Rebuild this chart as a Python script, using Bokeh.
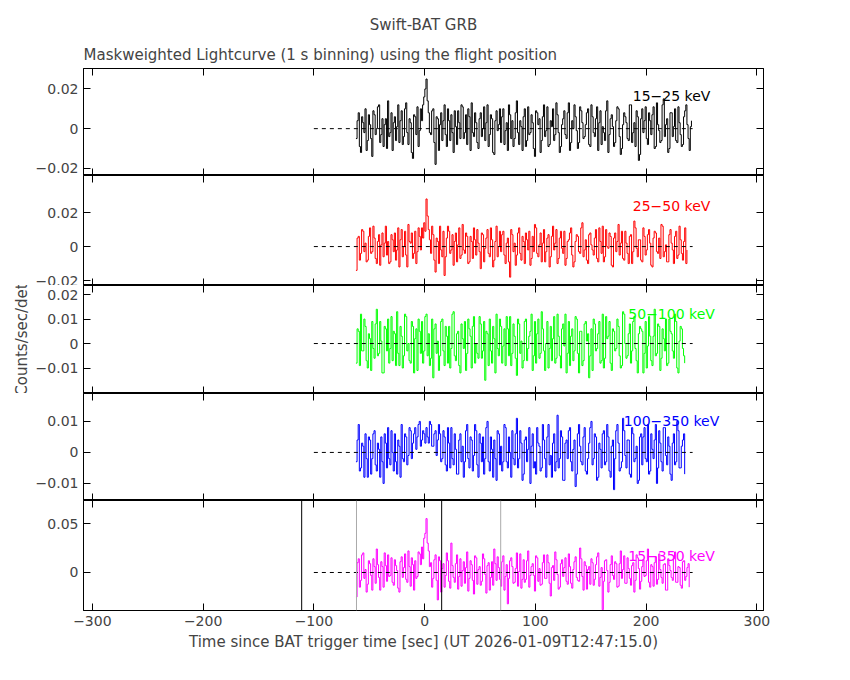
import numpy as np
from bokeh.plotting import figure
from bokeh.layouts import column
from bokeh.models import Range1d, LinearAxis, Label, Span, Title
from bokeh.embed import file_html
from bokeh.resources import INLINE

# rates in units of 1e-3 counts/sec/det; even seconds (a) and odd seconds (b) from -62 s
r15_25a = [-5,8,-12,3,10,-6,2,-14,7,0,12,-3,-9,5,14,-2,-11,6,1,-7,9,-4,13,-8,3,-15,6,11,-1,4,16,25,8,-3,10,-18,5,2,-6,12,-9,4,7,-12,1,9,-5,11,-2,-8,6,13,-4,3,-10,8,0,-6,12,-3,5,-13,9,2,-7,10,-1,-11,7,4,-5,14,-8,1,6,-9,11,-2,3,-14,8,5,-6,12,-1,-9,4,10,-3,7,-12,2,9,-5,13,-7,0,6,-10,11,3,-4,8,-8,12,-2,5,-11,9,1,-6,14,-3,7,-9,4,10,-13,2,6,-5,12,-7,3,9,-16,5,-2,11,-8,4,7,-10,13,-1,-6,15,2,-12,8,-4,10,-7,3,-9,6,12,-5,1,-3]
r15_25b = [4,-9,6,-2,-11,7,-5,9,-3,11,-7,5,2,-10,-4,8,3,-6,12,4,-8,10,-2,5,-12,7,-3,-9,10,12,20,14,-2,9,-7,6,-11,8,4,-3,10,-6,-2,9,-8,3,12,-5,7,10,-11,-2,8,-7,5,-4,11,3,-9,7,-12,4,-1,10,6,-8,3,12,-5,-9,8,-2,4,-11,10,-6,-3,7,-10,9,2,-12,6,-4,11,-8,1,-6,13,-2,-9,5,-3,8,-11,4,12,-1,-7,9,-5,2,10,-9,6,-4,11,3,-8,-2,9,-12,5,1,-7,11,-4,-10,8,3,-6,12,-2,-9,6,-13,10,4,-5,8,-3,11,-9,2,-7,12,-4,5,-10,8,1,-6,11,-3,-8,9,2,-11,4]
r25_50a = [-14,6,-4,9,2,-8,11,-3,5,-10,7,1,-6,12,3,-9,4,8,-2,-12,10,0,-5,13,2,-7,9,-3,6,11,14,28,10,-4,7,-15,3,12,-6,-17,5,9,-2,-11,8,1,-7,13,-4,6,-9,3,11,-5,2,-13,7,-1,10,-6,4,-8,12,0,-3,9,-10,5,-18,7,2,-5,11,-8,3,8,-2,-11,6,13,-4,1,-9,10,-3,7,-6,12,2,-10,5,-1,9,-7,4,11,-12,3,6,-4,14,-2,-8,7,1,-5,10,-9,3,12,-6,0,8,-11,5,-3,13,2,-7,9,-4,6,-10,15,-1,4,-8,11,-5,7,2,-12,9,-3,5,13,-6,1,-9,10,-2,6,-7,12,-4,3,-10,8,1,-5]
r25_50b = [5,-8,10,-3,-9,6,-4,12,-7,3,-11,8,2,-5,-10,7,-3,-8,11,4,-6,9,-12,3,8,-4,-10,11,-2,5,9,18,4,12,-8,5,-10,-2,9,-6,12,-4,7,3,-9,11,-5,-2,8,-10,6,-7,4,10,-3,8,-9,5,-4,11,-12,3,-6,9,7,-5,2,-9,10,-3,-11,8,-4,6,-10,4,9,-7,-3,11,-6,8,2,-9,5,-12,6,-2,10,-7,9,-4,-11,3,8,-5,-9,7,-3,11,-6,4,-10,8,-2,5,-7,11,-4,-9,10,-1,6,-12,8,3,-5,9,-8,2,-10,7,-3,11,-6,4,-9,6,-2,10,-11,5,8,-4,-7,12,-3,-9,7,2,-10,9,-5,4,-8,11,-2]
r50_100a = [-8,5,12,-3,7,-10,2,9,-6,14,-4,1,-12,6,10,-2,-7,4,13,-9,3,-5,11,0,-8,7,2,-11,5,9,-3,12,4,-6,-14,8,1,-5,10,-9,3,7,-2,13,-7,5,-12,2,9,-4,6,-10,11,0,-6,8,-3,-15,4,10,-8,2,12,-5,7,-1,-9,6,11,-4,3,-13,8,1,-7,10,-2,5,-11,9,4,-6,13,-3,0,-10,7,2,-8,12,-5,6,-1,-12,9,3,-7,11,-4,5,-9,8,1,-14,6,10,-3,4,-8,12,-6,2,9,-11,5,-2,7,-10,13,0,-5,8,-3,11,-7,4,6,-12,9,-1,3,-9,14,-4,7,-6,2,10,-8,5,-3,12,-10,1,6,-5,8]
r50_100b = [6,-9,-3,10,-7,4,-11,-2,8,-5,9,-12,7,-3,-8,11,5,-9,-4,7,-10,12,-3,-7,9,-12,6,10,-4,-8,11,-5,-9,10,6,-4,-11,9,-3,7,-8,-10,12,-5,4,-9,8,-2,-11,10,3,7,-8,-4,11,-6,9,5,-9,-3,7,-12,-2,10,-8,6,11,-5,-9,8,-6,10,-4,-10,9,-7,3,12,-5,-8,10,-4,6,-11,9,-2,-7,11,-6,3,-10,8,12,-4,-9,6,-3,10,-12,5,-7,9,4,-5,-11,8,-2,9,-7,-10,11,3,-8,6,-3,10,-5,-9,12,-6,4,-8,9,-2,-12,7,5,-4,-10,11,-7,3,-5,8,-11,6,-3,-9,10,4,-6,9,-12,7,-2,-8]
r100_350a = [-3,9,-5,2,6,-8,4,-2,7,-6,1,5,-10,3,8,-4,0,6,-7,2,9,-3,5,-1,7,3,8,5,10,4,6,8,3,9,2,7,4,6,-2,5,-6,3,8,-4,1,-7,6,2,-3,9,-5,4,-1,7,-8,3,5,-2,10,-6,1,4,-9,6,2,-3,8,-5,0,7,-4,11,-2,3,-7,5,1,-10,6,-3,8,2,-5,4,-8,9,-1,3,-6,12,-2,5,-9,4,7,-3,1,-11,6,2,-4,8,-7,3,10,-2,5,-8,1,6,-4,9,-6,2,-12,7,3,-5,11,-1,4,-7,8,-3,2,-9,6,5,-2,9,-6,1,4,-10,7,-3,8,-1,5,-7,3,-4,10,-5,2,6,-8,4,-2]
r100_350b = [4,-6,3,-8,-2,5,-7,6,-4,3,-8,-3,6,-5,-2,7,-6,-3,4,-8,-2,6,-4,8,-2,6,1,9,2,7,3,5,10,2,6,-1,9,-3,7,-4,8,-5,-2,6,-7,4,-3,-8,7,-2,5,-6,9,-4,6,-3,-7,8,-3,5,-8,-2,7,-4,-6,9,-3,5,-8,-2,6,-5,7,-9,4,-3,8,2,-5,-7,3,-6,9,-2,5,-4,-8,6,-3,-5,7,-9,3,-2,8,-6,4,-7,9,-3,5,-6,-2,8,-4,6,-9,3,-5,7,-3,5,-8,4,-2,9,-6,-3,7,-5,4,-8,6,-2,-10,5,-4,8,-3,-7,6,-2,9,-5,3,-6,8,-4,2,-9,6,-3,7,-5,4,-7]
r15_350a = [-25,14,-8,20,3,-12,9,-18,6,24,-5,11,-15,7,18,-3,-10,13,2,-20,16,5,-7,22,-14,8,12,-4,19,26,35,55,22,10,-6,18,-28,12,4,-15,20,-9,30,-5,9,-17,14,2,-11,21,-6,8,-22,15,3,-13,19,-2,7,-18,11,24,-8,5,-14,17,-4,-32,12,6,-10,20,1,-16,13,-7,22,-3,9,-19,15,4,-12,18,-6,10,-24,7,21,-2,-15,13,5,-9,19,-11,3,16,-8,25,-4,11,-17,6,14,-13,8,20,-5,-38,12,2,-10,17,-7,9,-14,22,3,-11,15,-6,7,-20,18,4,-9,13,-3,24,-15,6,10,-12,19,-5,8,-18,14,2,-8,21,-10,5,-16,12,-4,9]
r15_350b = [10,-15,18,-6,-20,12,-3,14,-11,8,-18,6,20,-9,-4,15,-13,7,-16,11,-5,19,-10,6,15,-18,-6,21,8,14,40,30,6,-15,13,-8,16,-20,9,-3,12,-16,7,-10,18,-4,-14,11,5,-19,12,-8,17,-12,6,-9,14,-21,10,-5,-13,9,16,-7,11,-18,8,-6,15,-11,4,-14,19,-7,-10,12,-15,6,-3,17,-9,-13,10,-6,18,-11,5,-8,13,-17,9,-4,15,-12,6,-16,11,-5,-9,14,-18,7,3,-12,10,-7,16,-14,5,-9,13,-20,8,-3,11,-15,9,-6,17,-11,4,-13,10,-8,15,-17,6,-4,12,-10,8,-14,16,-7,3,-11,9,-18,7,-5,14,-10,6,-13,11,-8,5,-15,10]

bands = ["15\u221225 keV", "25\u221250 keV", "50\u2212100 keV", "100\u2212350 keV", "15\u2212350 keV"]
series = [(r15_25a, r15_25b), (r25_50a, r25_50b), (r50_100a, r50_100b), (r100_350a, r100_350b), (r15_350a, r15_350b)]
colors = ["black", "#ff0000", "#00ff00", "#0000ff", "#ff00ff"]
yranges = [(-0.0236, 0.0303), (-0.0229, 0.0418), (-0.0204, 0.0237), (-0.0155, 0.019), (-0.0388, 0.0735)]
yticks = [[-0.02, 0, 0.02], [-0.02, 0, 0.02], [-0.01, 0, 0.01, 0.02], [-0.01, 0, 0.01], [0, 0.05]]
label_y = [0.0164, 0.024, 0.0122, 0.010, 0.017]
heights = [107, 110, 108, 107, 110]
vlines = [(-111, "black"), (-61.5, "#aaaaaa"), (15.4, "black"), (68.7, "#aaaaaa")]

FONT = "DejaVu Sans"
figs = []
for i in range(5):
    top = 68 if i == 0 else 0
    bot = 56 if i == 4 else 0
    p = figure(width=834, height=heights[i] + top + bot, output_backend="svg", toolbar_location=None,
               x_range=Range1d(-308, 306), y_range=Range1d(*yranges[i]),
               min_border_left=83, min_border_right=71, min_border_top=top, min_border_bottom=bot,
               x_axis_location=None)
    p.grid.visible = False
    p.outline_line_color = "black"
    a, b = series[i]
    vals = np.array([v for pair in zip(a, b) for v in pair]) * 1e-3
    t = -62 + np.arange(len(vals)) * 1.02
    if i == 4:
        for xv, c in vlines:
            p.add_layout(Span(location=xv, dimension="height", line_color=c, line_width=1))
    p.step(t, vals, mode="after", line_color=colors[i], line_width=1)
    p.segment(x0=[-100], y0=[0], x1=[242], y1=[0], line_color="black", line_dash="4 4", line_width=1)
    p.add_layout(Label(x=223, y=label_y[i], text=bands[i], text_color=colors[i], text_align="center",
                       text_baseline="middle", text_font=FONT, text_font_size="14px"))
    ya = p.yaxis[0]
    ya.ticker = yticks[i]
    ya.major_label_overrides = {v: ("0" if v == 0 else ("%g" % v).replace("-", "\u2212")) for v in yticks[i]}
    ya.major_label_text_font = FONT
    ya.major_label_text_font_size = "14px"
    ya.major_tick_in = 7; ya.major_tick_out = 0
    ya.minor_tick_in = 3; ya.minor_tick_out = 0
    ra = LinearAxis(major_tick_in=7, major_tick_out=0, minor_tick_in=3, minor_tick_out=0)
    ra.ticker = yticks[i]
    ra.major_label_overrides = {v: "" for v in yticks[i]}
    p.add_layout(ra, "right")
    xticks = [-300, -200, -100, 0, 100, 200, 300]
    for loc in ["above", "below"]:
        xa = LinearAxis(major_tick_in=7, major_tick_out=0, minor_tick_in=3, minor_tick_out=0)
        xa.ticker = xticks
        if loc == "below" and i == 4:
            xa.major_label_text_font = FONT
            xa.major_label_text_font_size = "14px"
            xa.major_label_overrides = {v: str(v).replace("-", "\u2212") for v in xticks}
            xa.axis_label = "Time since BAT trigger time [sec] (UT 2026-01-09T12:47:15.0)"
            xa.axis_label_text_font = FONT
            xa.axis_label_text_font_size = "15px"
            xa.axis_label_text_font_style = "normal"
            xa.axis_label_standoff = 4
        else:
            xa.major_label_overrides = {v: "" for v in xticks}
            xa.major_label_standoff = 0
        p.add_layout(xa, loc)
    if i == 2:
        ya.axis_label = "Counts/sec/det"
        ya.axis_label_text_font = FONT
        ya.axis_label_text_font_size = "15px"
        ya.axis_label_text_font_style = "normal"
        ya.axis_label_standoff = 2
    if i == 0:
        p.add_layout(Title(text="Maskweighted Lightcurve (1 s binning) using the flight position", text_font=FONT,
                           text_font_size="15px", text_font_style="normal", align="left"), "above")
        p.add_layout(Title(text="Swift-BAT GRB", text_font=FONT, text_font_size="15px",
                           text_font_style="normal", align="center"), "above")
    figs.append(p)

layout = column(*figs, spacing=0)
open("out.html", "w").write(file_html(layout, INLINE))
